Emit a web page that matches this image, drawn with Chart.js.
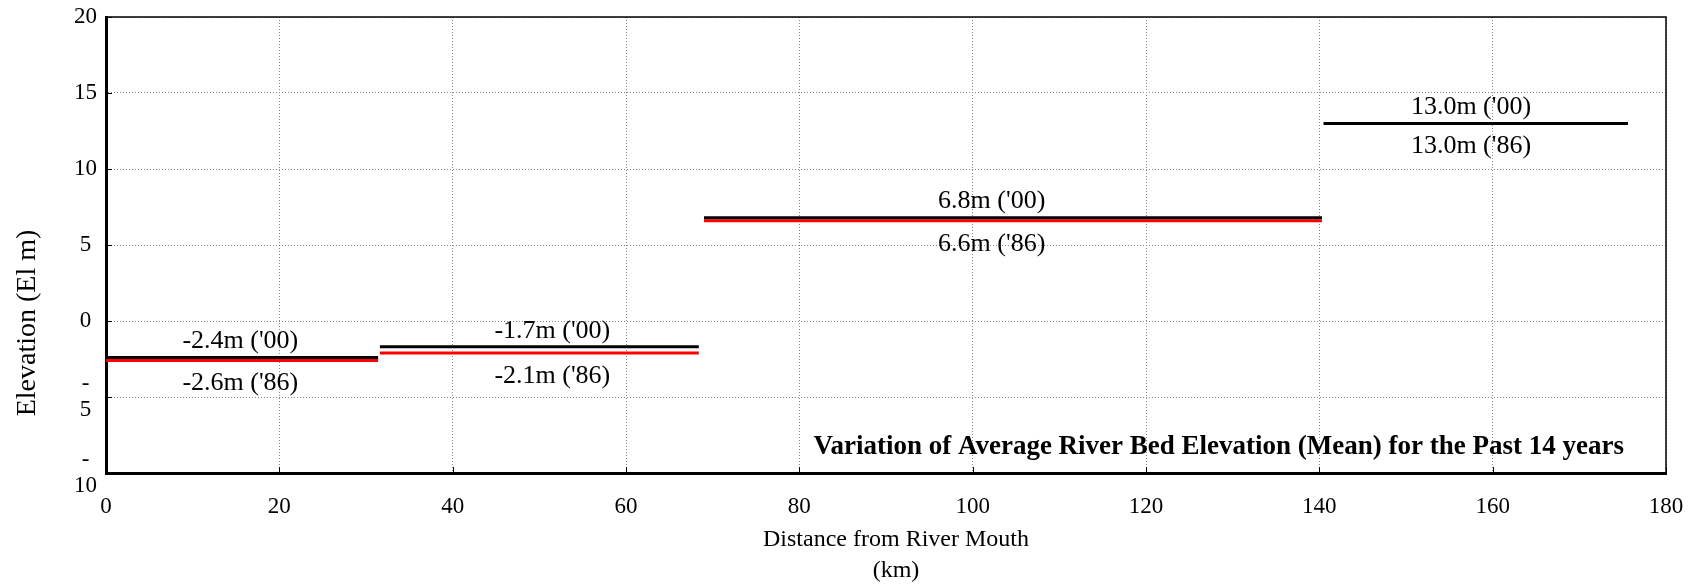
<!DOCTYPE html>
<html>
<head>
<meta charset="utf-8">
<script src="https://cdn.jsdelivr.net/npm/chart.js@4.4.0/dist/chart.umd.min.js"></script>
<style>
  html, body { margin: 0; padding: 0; background: #fff; }
  #wrap { width: 1699px; height: 585px; }
</style>
</head>
<body>
<div id="wrap"><canvas id="c" width="1699" height="585"></canvas></div>
<script>
// ---- data (km from river mouth, elevation in m) ----
const segStart = [0, 31.6, 69.0, 140.5];
const segEnd   = [31.4, 68.4, 140.3, 175.6];
const elev2000 = [-2.4, -1.7, 6.8, 13.0];
const elev1986 = [-2.6, -2.1, 6.6, 13.0];
const labelAt  = [15.5, 51.5, 102.2, 157.5];
const labels2000 = ["-2.4m ('00)", "-1.7m ('00)", "6.8m ('00)", "13.0m ('00)"];
const labels1986 = ["-2.6m ('86)", "-2.1m ('86)", "6.6m ('86)", "13.0m ('86)"];
const xTicks = [0, 20, 40, 60, 80, 100, 120, 140, 160, 180];
const yTicks = [-10, -5, 0, 5, 10, 15, 20];
const chartTitle = "Variation of Average River Bed Elevation (Mean) for the Past 14 years";
const xTitle = ["Distance from River Mouth", "(km)"];
const yTitle = "Elevation (El m)";

const FONT = "'Liberation Serif', 'Times New Roman', serif";

function segData(values) {
  const pts = [];
  for (let i = 0; i < values.length; i++) {
    pts.push({x: segStart[i], y: values[i]});
    pts.push({x: segEnd[i], y: values[i]});
    if (i + 1 < values.length) pts.push({x: (segEnd[i] + segStart[i + 1]) / 2, y: null});
  }
  return pts;
}

const decor = {
  id: 'decor',
  afterDraw(chart) {
    const {ctx, chartArea: a, scales: {x, y}} = chart;
    ctx.save();
    // frame top/right
    ctx.strokeStyle = '#000';
    ctx.lineWidth = 1.5;
    ctx.beginPath();
    ctx.moveTo(a.left, a.top); ctx.lineTo(a.right, a.top); ctx.lineTo(a.right, a.bottom);
    ctx.stroke();
    // inner ticks
    ctx.lineWidth = 1;
    ctx.beginPath();
    xTicks.forEach(v => { const px = Math.round(x.getPixelForValue(v)) + 0.5; ctx.moveTo(px, a.bottom); ctx.lineTo(px, a.bottom - 6); });
    yTicks.forEach(v => { const py = Math.round(y.getPixelForValue(v)) + 0.5; ctx.moveTo(a.left, py); ctx.lineTo(a.left + 6, py); });
    ctx.stroke();
    // segment labels
    ctx.fillStyle = '#000';
    ctx.font = "26px " + FONT;
    ctx.textAlign = 'center';
    ctx.textBaseline = 'middle';
    for (let i = 0; i < labelAt.length; i++) {
      const px = x.getPixelForValue(labelAt[i]);
      ctx.fillText(labels2000[i], px, y.getPixelForValue(elev2000[i]) - 16);
      ctx.fillText(labels1986[i], px, y.getPixelForValue(elev1986[i]) + 23);
    }
    // chart title inside plot
    ctx.font = "bold 27px " + FONT;
    ctx.textAlign = 'right';
    ctx.fillText(chartTitle, a.right - 42, a.bottom - 26);
    // axis titles
    ctx.font = "24px " + FONT;
    ctx.textAlign = 'center';
    const cx = (a.left + a.right) / 2 + 10;
    ctx.fillText(xTitle[0], cx, a.bottom + 67);
    ctx.fillText(xTitle[1], cx, a.bottom + 98);
    ctx.save();
    ctx.font = "28px " + FONT;
    ctx.translate(28, (a.top + a.bottom) / 2 + 78);
    ctx.rotate(-Math.PI / 2);
    ctx.fillText(yTitle, 0, 0);
    ctx.restore();
    ctx.restore();
  }
};

new Chart(document.getElementById('c'), {
  type: 'line',
  data: {
    datasets: [
      { label: "'00", data: segData(elev2000), borderColor: '#000000', borderWidth: 3, pointRadius: 0, spanGaps: false, order: 1 },
      { label: "'86", data: segData(elev1986), borderColor: '#ff0000', borderWidth: 3, pointRadius: 0, spanGaps: false, order: 2 }
    ]
  },
  options: {
    responsive: false,
    animation: false,
    devicePixelRatio: 1,
    layout: { padding: { top: 17, right: 33, bottom: 0, left: 0 } },
    plugins: { legend: { display: false }, tooltip: { enabled: false } },
    scales: {
      x: {
        type: 'linear', min: 0, max: 180,
        afterFit(s) { s.height = 112; s.paddingLeft = 0; s.paddingRight = 0; },
        afterBuildTicks(s) { s.ticks = xTicks.map(v => ({value: v})); },
        ticks: { font: { family: FONT, size: 23 }, color: '#000', padding: 20, maxRotation: 0 },
        grid: { color: '#8a8a8a', lineWidth: 1, drawTicks: false },
        border: { color: '#000', width: 3, dash: [1, 2] }
      },
      y: {
        type: 'linear', min: -10, max: 20,
        afterFit(s) { s.width = 106; s.paddingTop = 0; s.paddingBottom = 0; },
        afterBuildTicks(s) { s.ticks = yTicks.map(v => ({value: v})); },
        ticks: {
          font: { family: FONT, size: 23, lineHeight: 1.1 }, color: '#000', padding: 9, crossAlign: 'center',
          callback: v => v < 0 ? ['-', String(Math.abs(v))] : String(v)
        },
        grid: { color: '#8a8a8a', lineWidth: 1, drawTicks: false },
        border: { color: '#000', width: 3, dash: [1, 2] }
      }
    }
  },
  plugins: [decor]
});
</script>
</body>
</html>
